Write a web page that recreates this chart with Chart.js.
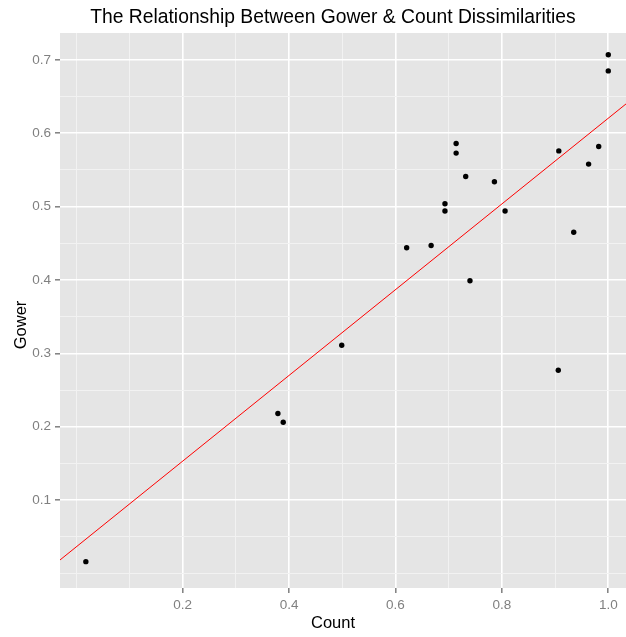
<!DOCTYPE html>
<html>
<head>
<meta charset="utf-8">
<script src="https://cdn.jsdelivr.net/npm/chart.js@4"></script>
<style>
    html, body { margin: 0; padding: 0; background: #ffffff; }
    #wrap { width: 626px; height: 637px; }
</style>
</head>
<body>
<div id="wrap"><canvas id="chart" width="626" height="637"></canvas></div>
<script>
// Count dissimilarity (x) and Gower dissimilarity (y) for each pair
const countVals = [
    0.018, 0.379, 0.389, 0.499, 0.621, 0.667, 0.693, 0.693, 0.714, 0.714, 0.732,
    0.740, 0.786, 0.806, 0.906, 0.907, 0.935, 0.963, 0.982, 1.000, 1.000
];
const gowerVals = [
    0.016, 0.218, 0.206, 0.311, 0.444, 0.447, 0.504, 0.494, 0.586, 0.573, 0.541,
    0.399, 0.534, 0.494, 0.277, 0.576, 0.465, 0.558, 0.582, 0.707, 0.685
];

// fitted line, read at the panel edges
const fitX = [-0.0306, 1.0333];
const fitY = [0.0183, 0.640];

const xGrid = [0, 0.1, 0.2, 0.3, 0.4, 0.5, 0.6, 0.7, 0.8, 0.9, 1.0];
const xMajor = [0.2, 0.4, 0.6, 0.8, 1.0];
const yGrid = [0, 0.05, 0.1, 0.15, 0.2, 0.25, 0.3, 0.35, 0.4, 0.45, 0.5, 0.55, 0.6, 0.65, 0.7];
const yMajor = [0.1, 0.2, 0.3, 0.4, 0.5, 0.6, 0.7];

const titleText = 'The Relationship Between Gower & Count Dissimilarities';
const xTitle = 'Count';
const yTitle = 'Gower';

const FONT = '"Liberation Sans", Arial, sans-serif';
const isMajor = (list, v) => list.some(m => Math.abs(m - v) < 1e-6);

const gridOpts = (majors) => ({
    color: ctx => isMajor(majors, ctx.tick.value) ? '#ffffff' : '#f2f2f2',
    lineWidth: ctx => isMajor(majors, ctx.tick.value) ? 1.6 : 1,
    drawTicks: true,
    tickLength: 5,
    tickColor: ctx => isMajor(majors, ctx.tick.value) ? '#7f7f7f' : 'rgba(0,0,0,0)',
    tickWidth: 1.5
});

const panelBg = {
    id: 'panelBg',
    beforeDraw: (chart) => {
        const { ctx, chartArea: a } = chart;
        ctx.save();
        ctx.fillStyle = '#e5e5e5';
        ctx.fillRect(a.left, a.top, a.right - a.left, a.bottom - a.top);
        ctx.restore();
    }
};

const textTitles = {
    id: 'textTitles',
    afterDraw: (chart) => {
        const ctx = chart.ctx;
        ctx.save();
        ctx.fillStyle = '#000000';
        ctx.textAlign = 'center';
        ctx.textBaseline = 'middle';
        ctx.font = '19.3px ' + FONT;
        ctx.fillText(titleText, 333, 18);
        ctx.font = '16.5px ' + FONT;
        ctx.fillText(xTitle, 333, 623);
        ctx.translate(21, 325);
        ctx.rotate(-Math.PI / 2);
        ctx.fillText(yTitle, 0, 0);
        ctx.restore();
    }
};

new Chart(document.getElementById('chart').getContext('2d'), {
    type: 'scatter',
    data: {
        datasets: [
            {
                label: 'pairs',
                data: countVals.map((c, i) => ({ x: c, y: gowerVals[i] })),
                backgroundColor: '#000000',
                borderWidth: 0,
                pointRadius: 2.7
            },
            {
                type: 'line',
                label: 'fit',
                data: fitX.map((x, i) => ({ x: x, y: fitY[i] })),
                borderColor: '#ff0000',
                borderWidth: 1,
                pointRadius: 0,
                fill: false
            }
        ]
    },
    options: {
        responsive: false,
        animation: false,
        layout: {
            autoPadding: false,
            padding: { top: 33, left: 0, right: 0, bottom: 0 }
        },
        plugins: {
            legend: { display: false },
            tooltip: { enabled: false },
            title: { display: false }
        },
        scales: {
            x: {
                type: 'linear',
                min: -0.0306,
                max: 1.0333,
                afterBuildTicks: scale => { scale.ticks = xGrid.map(v => ({ value: v })); },
                afterFit: scale => {
                    scale.height = 49;
                    scale.paddingLeft = 0;
                    scale.paddingRight = 0;
                },
                ticks: {
                    autoSkip: false,
                    maxRotation: 0,
                    padding: 4,
                    color: '#808080',
                    font: { family: FONT, size: 13.5 },
                    callback: v => isMajor(xMajor, v) ? v.toFixed(1) : ''
                },
                grid: gridOpts(xMajor),
                border: { display: false }
            },
            y: {
                type: 'linear',
                min: -0.0199,
                max: 0.7367,
                afterBuildTicks: scale => { scale.ticks = yGrid.map(v => ({ value: v })); },
                afterFit: scale => {
                    scale.width = 60;
                    scale.paddingTop = 0;
                    scale.paddingBottom = 0;
                },
                ticks: {
                    autoSkip: false,
                    padding: 4,
                    color: '#808080',
                    font: { family: FONT, size: 13.5 },
                    callback: v => isMajor(yMajor, v) ? v.toFixed(1) : ''
                },
                grid: gridOpts(yMajor),
                border: { display: false }
            }
        }
    },
    plugins: [panelBg, textTitles]
});
</script>
</body>
</html>
